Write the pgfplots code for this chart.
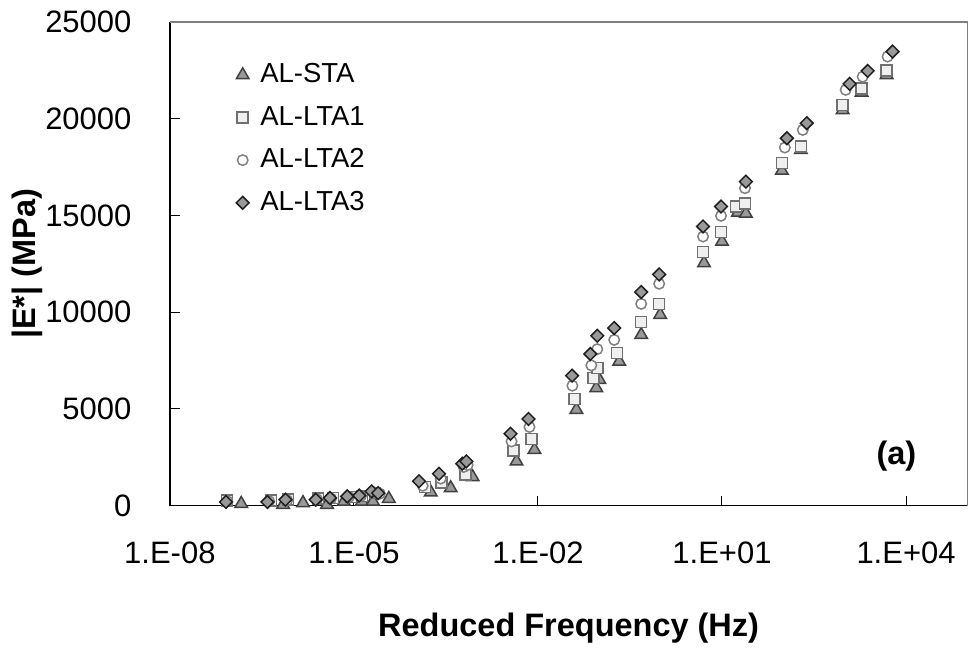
\documentclass[border=0pt]{standalone}
\usepackage{fontspec}
\setmainfont{Liberation Sans}
\usepackage{pgfplots}
\pgfplotsset{compat=1.18}

\definecolor{triFill}{HTML}{999999}
\definecolor{triDraw}{HTML}{404040}
\definecolor{sqFill}{HTML}{EFEFEF}
\definecolor{sqDraw}{HTML}{707070}
\definecolor{ciDraw}{HTML}{808080}
\definecolor{diFill}{HTML}{999999}
\definecolor{diDraw}{HTML}{1E1E1E}
\definecolor{frame}{HTML}{808080}

\begin{document}
\begin{tikzpicture}
\begin{axis}[
  scale only axis, width=319.2pt, height=193.6pt,
  xmode=log, xmin=1e-8, xmax=1e5,
  ymin=0, ymax=25000, scaled y ticks=false,
  axis x line*=bottom, axis y line*=left,
  axis line style={black, line width=0.5pt},
  tick align=inside, major tick length=4pt,
  tick style={black, line width=0.4pt},
  xtick={1e-8,1e-5,1e-2,1e1,1e4},
  xticklabels={1.E-08,1.E-05,1.E-02,1.E+01,1.E+04},
  minor xtick={}, log ticks with fixed point=false,
  ytick={0,5000,10000,15000,20000,25000},
  yticklabels={0,5000,10000,15000,20000,25000},
  ticklabel style={font=\fontsize{12.4}{14}\selectfont, inner sep=0pt},
  xticklabel style={anchor=north, yshift=-14.4pt},
  yticklabel style={anchor=east, xshift=-15.2pt},
  xlabel={\textbf{Reduced Frequency (Hz)}},
  ylabel={\textbf{|E*| (MPa)}},
  label style={font=\fontsize{13}{15}\selectfont},
  xlabel style={at={(axis description cs:0.5,-0.2707)}, anchor=base},
  ylabel style={at={(axis description cs:-0.1786,0.5)}, anchor=center, rotate=0},
  clip=false,
  legend style={at={(rel axis cs:0.0827,0.9150)}, anchor=north west,
    draw=none, fill=none, inner sep=0pt, row sep=7.9pt,
    font=\fontsize{11}{13}\selectfont,
    nodes={inner sep=0pt},
    /tikz/every odd column/.append style={column sep=4.5pt}},
  legend cell align=left,
  legend image code/.code={\draw[#1] plot coordinates {(0pt,0pt)};},
]
% gray plot-area border, top and right
\draw[frame, line width=0.5pt] (rel axis cs:0,1) -- (rel axis cs:1,1) -- (rel axis cs:1,0);
% page size
\path (rel axis cs:0,0) ++(-68pt,-57.2pt) rectangle ++(387.2pt,259.6pt);

\addplot[only marks, mark=triangle*, mark size=2.9pt,
  mark options={fill=triFill, draw=triDraw, line width=0.6pt}] coordinates {
  (1.455e-7,100) (7.01e-7,50) (1.48e-6,140) (3.64e-6,50) (6.87e-6,220)
  (1.35e-5,220) (2.04e-5,220) (3.71e-5,360) (1.79e-4,690) (3.78e-4,910)
  (8.61e-4,1480) (4.47e-3,2290) (8.77e-3,2890) (4.23e-2,4960) (8.93e-2,6080)
  (1.00e-1,6510) (2.11e-1,7450) (4.82e-1,8830) (9.82e-1,9870) (5.09,12540)
  (10,13650) (18.2,15150) (24.5,15100) (94.6,17320) (193,18390)
  (927,20450) (1888,21350) (4819,22260)
};
\addlegendentry{AL-STA}

\addplot[only marks, mark=square*, mark size=2.2pt,
  mark options={fill=sqFill, draw=sqDraw, line width=0.6pt}] coordinates {
  (8.61e-8,275) (4.47e-7,275) (8.45e-7,310) (2.60e-6,360) (4.56e-6,400)
  (8.93e-6,450) (1.35e-5,500) (2.19e-5,650) (1.43e-4,960) (2.70e-4,1200)
  (6.62e-4,1600) (4.00e-3,2840) (7.83e-3,3450) (3.92e-2,5510) (7.98e-2,6600)
  (9.27e-2,7110) (1.96e-1,7890) (4.82e-1,9490) (9.46e-1,10430) (4.91,13100)
  (9.64,14140) (16.9,15460) (23.7,15630) (94.6,17700) (193,18560)
  (927,20710) (1888,21570) (4819,22480)
};
\addlegendentry{AL-LTA1}

\addplot[only marks, mark=*, mark size=2.1pt,
  mark options={fill=white, draw=ciDraw, line width=0.6pt}] coordinates {
  (8.61e-8,230) (4.15e-7,230) (8.15e-7,280) (2.50e-6,330) (4.23e-6,370)
  (8.30e-6,450) (1.30e-5,500) (2.11e-5,690) (2.65e-5,620) (1.32e-4,1030)
  (2.60e-4,1400) (6.15e-4,2000) (7.14e-4,2100) (3.71e-3,3320) (7.28e-3,4070)
  (3.64e-2,6200) (7.41e-2,7250) (9.27e-2,8090) (1.75e-1,8570) (4.82e-1,10430)
  (9.46e-1,11470) (4.91,13910) (9.64,14980) (23.7,16410) (105.7,18510)
  (207.5,19420) (1038,21490) (1963,22170) (5000,23210)
};
\addlegendentry{AL-LTA2}

\addplot[only marks, mark=square*, mark size=1.8pt,
  mark options={rotate=45, fill=diFill, draw=diDraw, line width=0.6pt}] coordinates {
  (8.20e-8,190) (3.89e-7,190) (7.64e-7,310) (2.38e-6,310) (4.07e-6,400)
  (7.78e-6,480) (1.22e-5,520) (1.94e-5,740) (2.48e-5,650) (1.15e-4,1260)
  (2.44e-4,1650) (5.85e-4,2170) (6.81e-4,2290) (3.57e-3,3720) (7.01e-3,4480)
  (3.60e-2,6720) (7.14e-2,7840) (9.27e-2,8780) (1.75e-1,9180) (4.82e-1,11040)
  (9.46e-1,11950) (4.91,14430) (9.64,15460) (24.5,16750) (114,18990)
  (241,19770) (1205,21800) (2366,22470) (6026,23470)
};
\addlegendentry{AL-LTA3}

\node[font=\bfseries\fontsize{13}{15}\selectfont] at (rel axis cs:0.911,0.103) {(a)};
\end{axis}
\end{tikzpicture}
\end{document}
